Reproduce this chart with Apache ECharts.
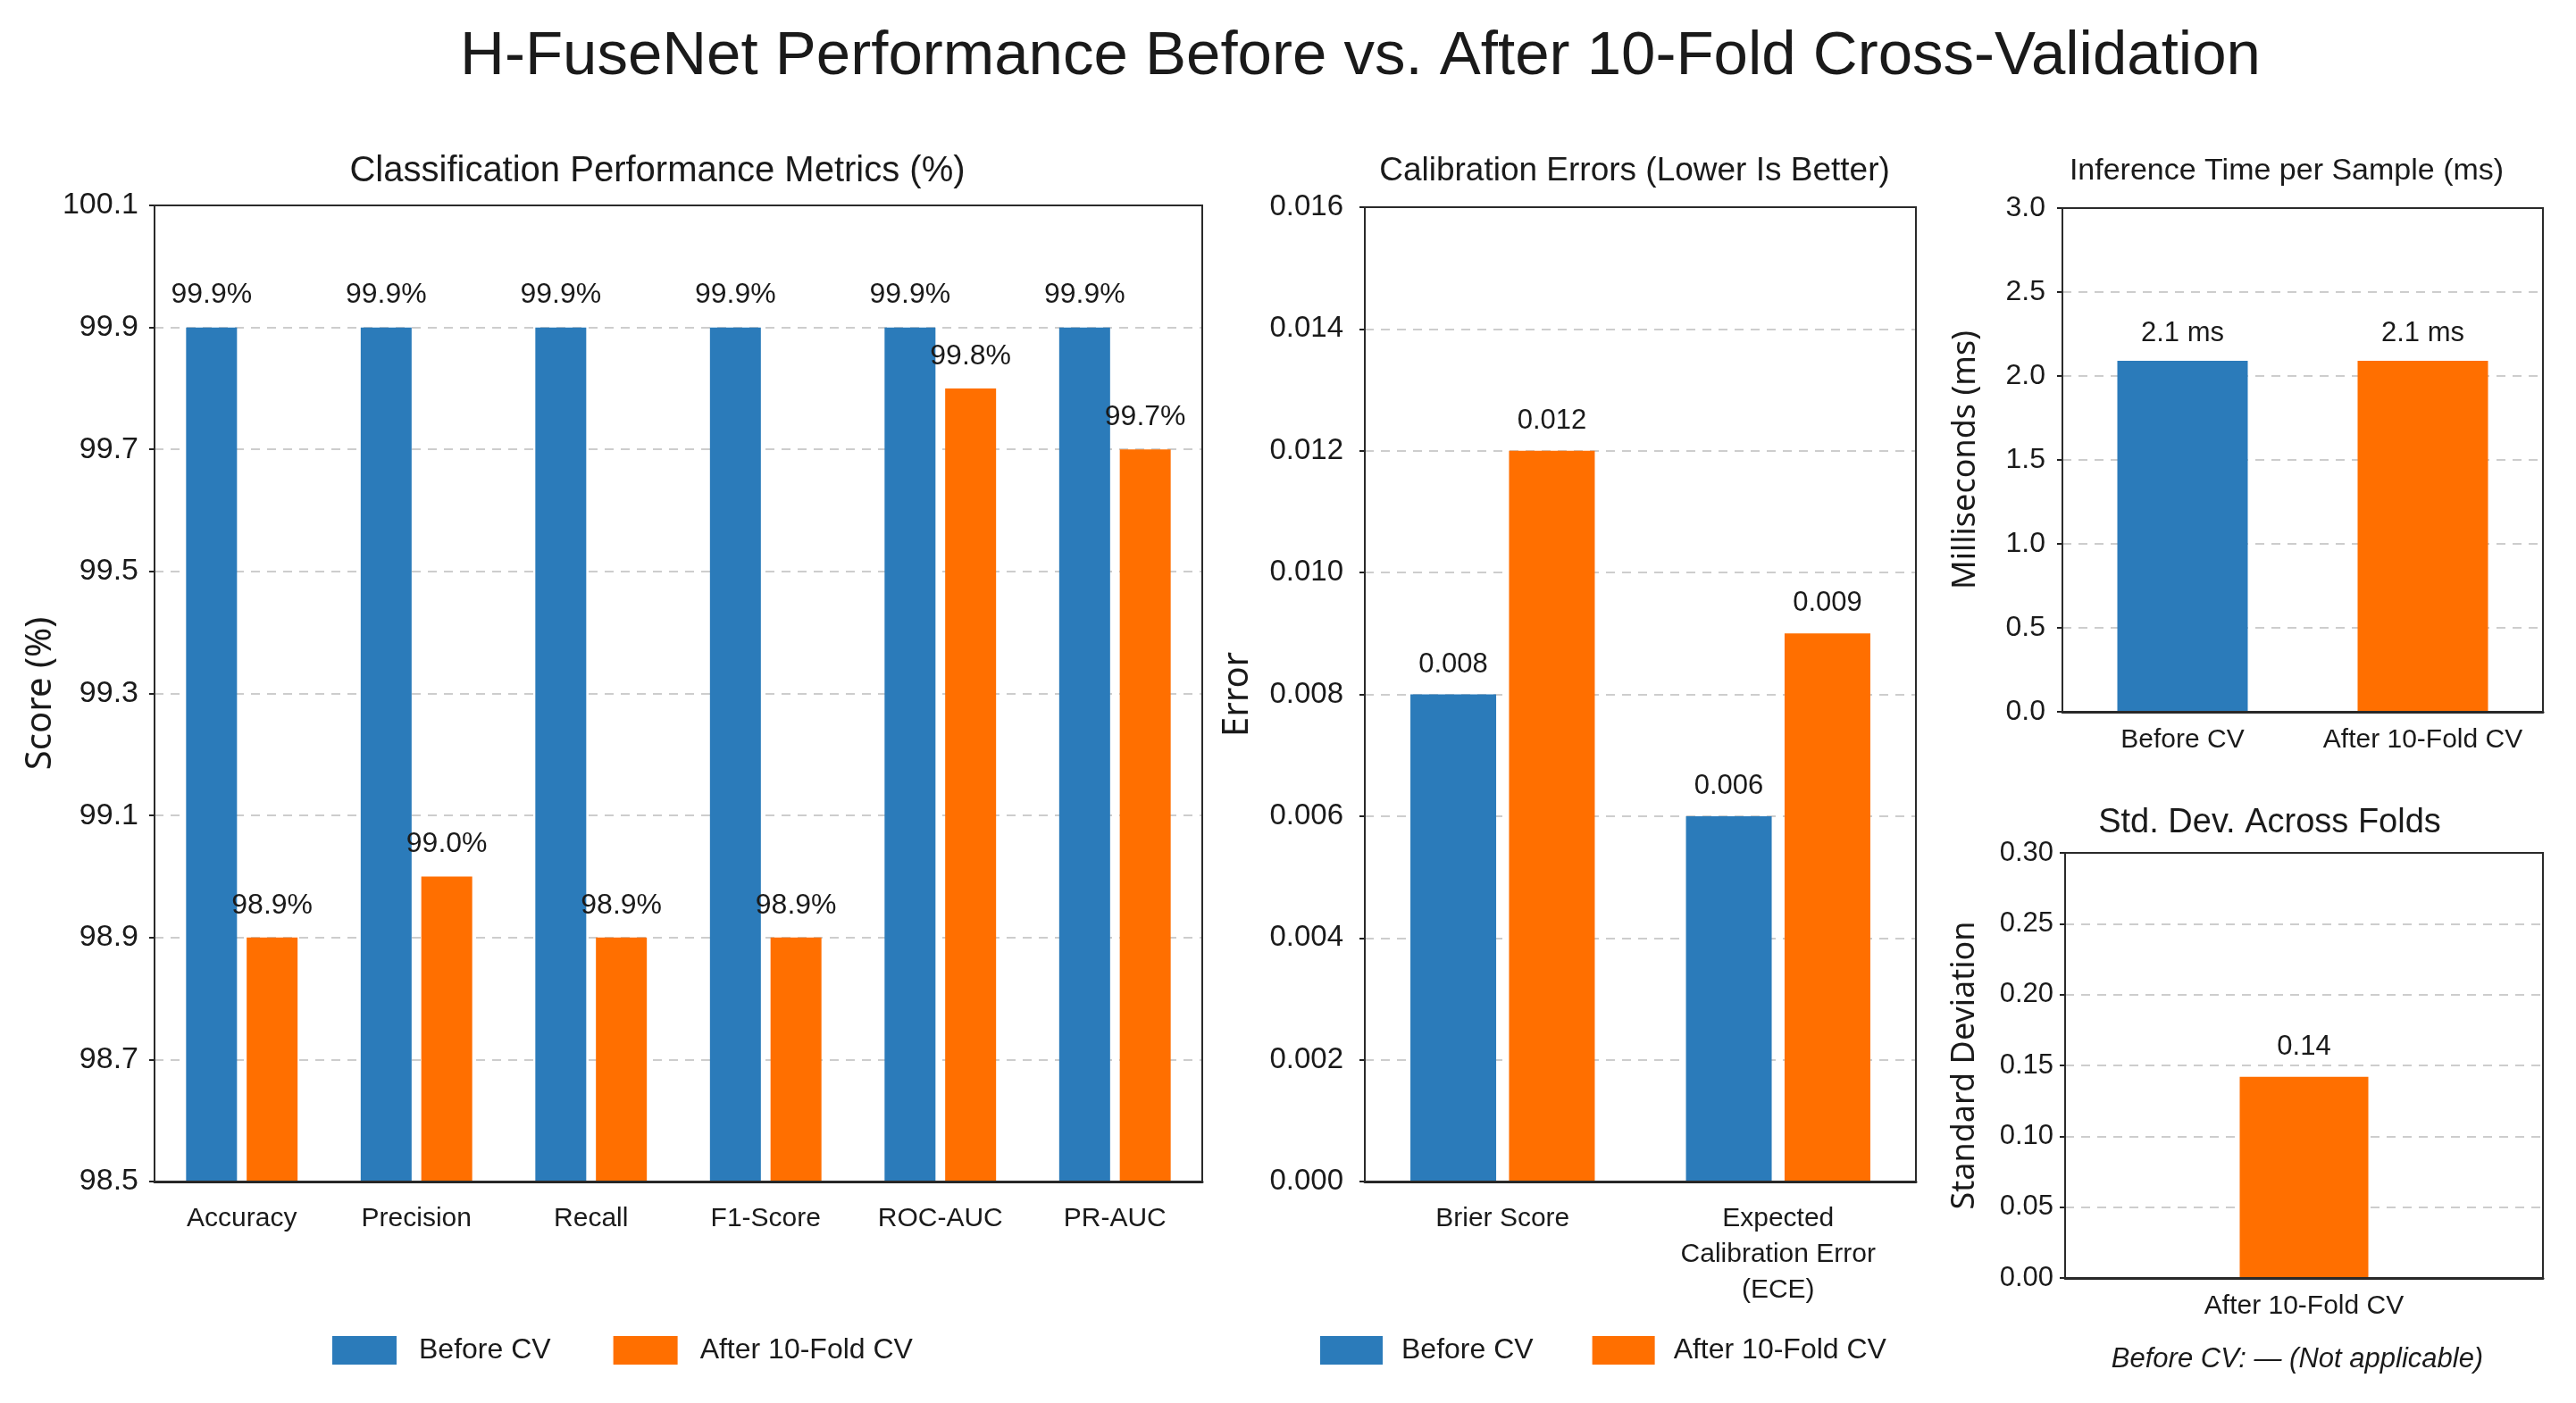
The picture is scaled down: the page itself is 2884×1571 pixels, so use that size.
<!DOCTYPE html>
<html>
<head>
<meta charset="utf-8">
<title>H-FuseNet Performance Before vs. After 10-Fold Cross-Validation</title>
<script src="https://cdn.jsdelivr.net/npm/echarts@6.0.0/dist/echarts.min.js"></script>
<style>
  html, body { margin: 0; padding: 0; background: #ffffff; }
  #chart { width: 2884px; height: 1571px; }
</style>
</head>
<body>
<div id="chart"></div>
<script>
// data
var metricCats = ['Accuracy', 'Precision', 'Recall', 'F1-Score', 'ROC-AUC', 'PR-AUC'];
var beforeScores = [99.9, 99.9, 99.9, 99.9, 99.9, 99.9];
var afterScores = [98.9, 99.0, 98.9, 98.9, 99.8, 99.7];

var calibCats = ['Brier Score', 'Expected\nCalibration Error\n(ECE)'];
var beforeCalib = [0.008, 0.006];
var afterCalib = [0.012, 0.009];

var timeCats = ['Before CV', 'After 10-Fold CV'];
var inferenceMs = [2.09, 2.09];

var stdCats = ['After 10-Fold CV'];
var stdAcrossFolds = [0.142];

var seriesNames = ['Before CV', 'After 10-Fold CV'];

var BLUE = '#2B7BBA';
var ORANGE = '#FF6F00';
var INK = '#1a1a1a';
var FONT = "'Liberation Sans', Arial, sans-serif";
var NAMEFONT = "'Noto Sans', 'Liberation Sans', sans-serif";

var myChart = echarts.init(document.getElementById('chart'));

function xCat(gi, cats, margin) {
    return {
        type: 'category', gridIndex: gi, data: cats,
        axisLine: { lineStyle: { color: '#222', width: 3 } },
        axisTick: { alignWithLabel: true, length: 8, lineStyle: { color: '#222', width: 2 } },
        axisLabel: { interval: 0, fontSize: 30, color: INK, fontFamily: FONT, margin: margin, lineHeight: 40 }
    };
}

function yVal(gi, min, max, step, digits, name, gap, nameSize, labelSize, margin) {
    return {
        type: 'value', gridIndex: gi, min: min, max: max, interval: step,
        name: name, nameLocation: 'middle', nameGap: gap,
        nameTextStyle: { fontSize: nameSize, color: INK, fontFamily: NAMEFONT },
        axisLine: { show: true, lineStyle: { color: '#222', width: 2 } },
        axisTick: { show: true, length: 6, lineStyle: { color: '#222', width: 2 } },
        axisLabel: {
            fontSize: labelSize, color: INK, fontFamily: FONT, margin: margin,
            formatter: function (v) { return v.toFixed(digits); }
        },
        splitLine: { lineStyle: { color: '#cdcdcd', width: 2, type: [10, 8] } }
    };
}

function label(fmt, dist, size) {
    return { show: true, position: 'top', distance: dist, fontSize: size, color: INK, fontFamily: FONT, formatter: fmt };
}

var gridStyle = { show: true, borderColor: '#2a2a2a', borderWidth: 2, z: 5 };

var option = {
    backgroundColor: '#ffffff',
    animation: false,
    grid: [
        Object.assign({ left: 173, top: 230, width: 1173, height: 1093 }, gridStyle),
        Object.assign({ left: 1528, top: 232, width: 617, height: 1091 }, gridStyle),
        Object.assign({ left: 2309, top: 233, width: 538, height: 564 }, gridStyle),
        Object.assign({ left: 2312, top: 955, width: 535, height: 476 }, gridStyle)
    ],
    xAxis: [
        xCat(0, metricCats, 22),
        xCat(1, calibCats, 22),
        xCat(2, timeCats, 12),
        xCat(3, stdCats, 12)
    ],
    yAxis: [
        yVal(0, 98.5, 100.1, 0.2, 1, 'Score (%)', 105, 40, 34, 18),
        yVal(1, 0, 0.016, 0.002, 3, 'Error', 122, 40, 33, 24),
        yVal(2, 0, 3.0, 0.5, 1, 'Milliseconds (ms)', 90, 36, 32, 19),
        yVal(3, 0, 0.30, 0.05, 2, 'Standard Deviation', 94, 36, 31, 13)
    ],
    legend: [
        {
            data: seriesNames, left: 372, top: 1496, padding: 0,
            icon: 'rect', itemWidth: 72, itemHeight: 32, itemGap: 70,
            textStyle: { fontSize: 32, color: INK, fontFamily: FONT, padding: [0, 0, 0, 20] },
            selectedMode: false
        },
        {
            data: seriesNames, left: 1478, top: 1496, padding: 0,
            icon: 'rect', itemWidth: 70, itemHeight: 32, itemGap: 66,
            textStyle: { fontSize: 32, color: INK, fontFamily: FONT, padding: [0, 0, 0, 16] },
            selectedMode: false
        }
    ],
    graphic: [
        { type: 'text', x: 1523, y: 64, style: { text: 'H-FuseNet Performance Before vs. After 10-Fold Cross-Validation', fontSize: 69, fontFamily: FONT, fill: INK, align: 'center', verticalAlign: 'middle' } },
        { type: 'text', x: 736, y: 192, style: { text: 'Classification Performance Metrics (%)', fontSize: 40, fontFamily: FONT, fill: INK, align: 'center', verticalAlign: 'middle' } },
        { type: 'text', x: 1830, y: 192, style: { text: 'Calibration Errors (Lower Is Better)', fontSize: 37, fontFamily: FONT, fill: INK, align: 'center', verticalAlign: 'middle' } },
        { type: 'text', x: 2560, y: 192, style: { text: 'Inference Time per Sample (ms)', fontSize: 34, fontFamily: FONT, fill: INK, align: 'center', verticalAlign: 'middle' } },
        { type: 'text', x: 2541, y: 922, style: { text: 'Std. Dev. Across Folds', fontSize: 38, fontFamily: FONT, fill: INK, align: 'center', verticalAlign: 'middle' } },
        { type: 'text', x: 2572, y: 1522, style: { text: 'Before CV: \u2014 (Not applicable)', fontSize: 31, fontStyle: 'italic', fontFamily: FONT, fill: INK, align: 'center', verticalAlign: 'middle' } }
    ],
    series: [
        {
            name: seriesNames[0], type: 'bar', xAxisIndex: 0, yAxisIndex: 0,
            data: beforeScores, barWidth: 57, barGap: '19%', itemStyle: { color: BLUE },
            label: label(function (p) { return p.value.toFixed(1) + '%'; }, 20, 32)
        },
        {
            name: seriesNames[1], type: 'bar', xAxisIndex: 0, yAxisIndex: 0,
            data: afterScores, barWidth: 57, barGap: '19%', itemStyle: { color: ORANGE },
            label: label(function (p) { return p.value.toFixed(1) + '%'; }, 20, 32)
        },
        {
            name: seriesNames[0], type: 'bar', xAxisIndex: 1, yAxisIndex: 1,
            data: beforeCalib, barWidth: 96, barGap: '15%', itemStyle: { color: BLUE },
            label: label(function (p) { return p.value.toFixed(3); }, 18, 31)
        },
        {
            name: seriesNames[1], type: 'bar', xAxisIndex: 1, yAxisIndex: 1,
            data: afterCalib, barWidth: 96, barGap: '15%', itemStyle: { color: ORANGE },
            label: label(function (p) { return p.value.toFixed(3); }, 18, 31)
        },
        {
            name: 'Inference Time', type: 'bar', xAxisIndex: 2, yAxisIndex: 2,
            data: inferenceMs.map(function (v, i) {
                return { value: v, itemStyle: { color: i === 0 ? BLUE : ORANGE } };
            }),
            barWidth: 146,
            label: label(function (p) { return p.value.toFixed(1) + ' ms'; }, 15, 31)
        },
        {
            name: 'Std. Dev.', type: 'bar', xAxisIndex: 3, yAxisIndex: 3,
            data: stdAcrossFolds, barWidth: 144, itemStyle: { color: ORANGE },
            label: label(function (p) { return p.value.toFixed(2); }, 18, 31)
        }
    ]
};

myChart.setOption(option);
</script>
</body>
</html>
